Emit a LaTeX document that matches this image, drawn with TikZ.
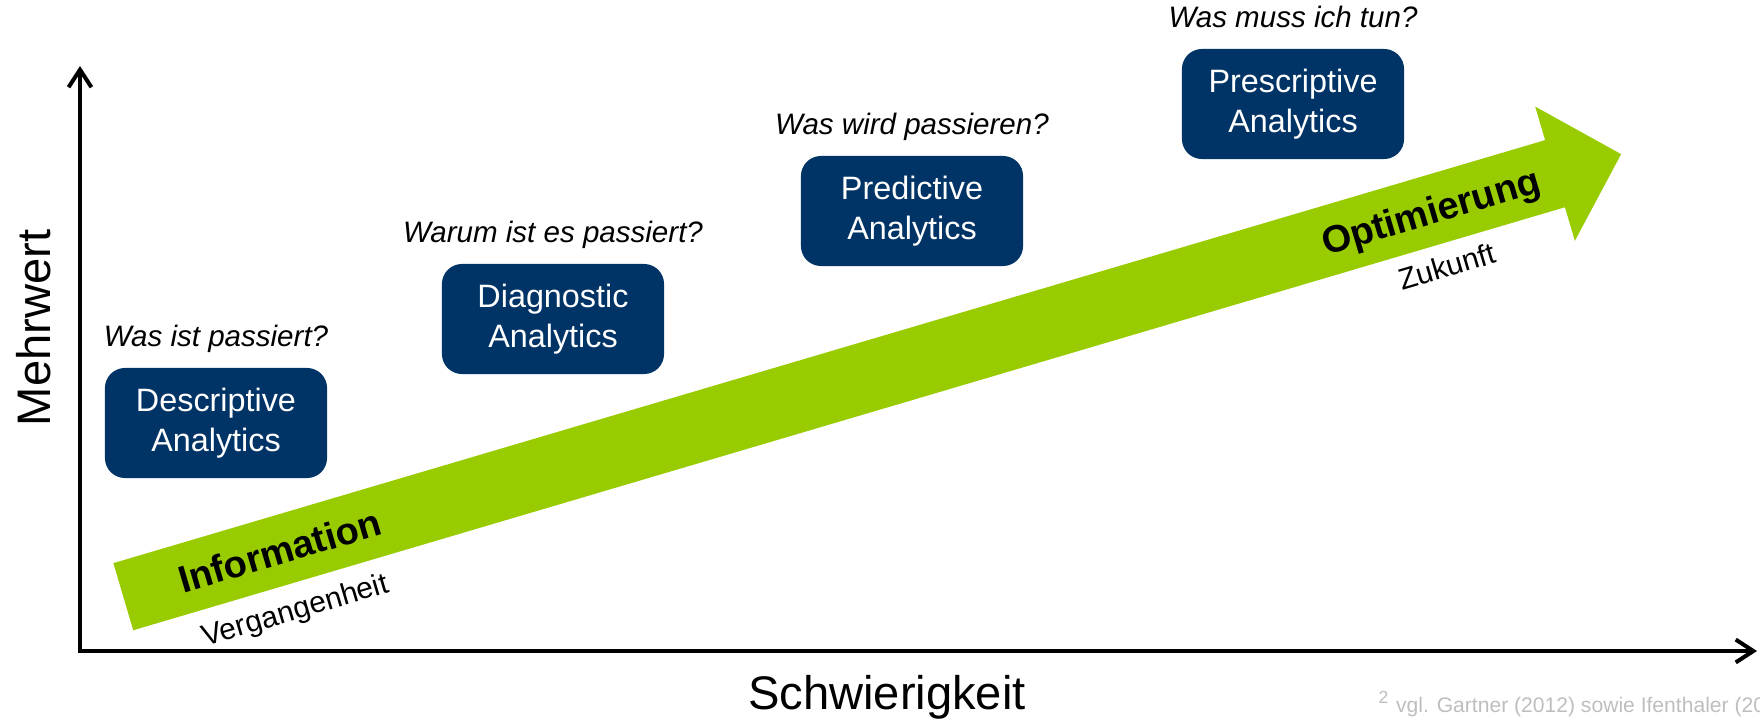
\documentclass[tikz,border=0pt]{standalone}
\usepackage{fontspec}
\setmainfont{Liberation Sans}
\usetikzlibrary{positioning,arrows.meta}

\definecolor{boxblue}{RGB}{0,51,102}
\definecolor{trendgreen}{RGB}{153,204,0}
\definecolor{notegray}{RGB}{190,190,190}

\tikzset{
  analytics/.style={fill=boxblue, rounded corners=0.2cm, minimum width=2.22cm,
    minimum height=1.1cm, inner sep=0pt, text=white, align=center,
    font=\fontsize{9.2}{11.2}\selectfont},
  question/.style={inner sep=0pt, text depth=0pt, font=\fontsize{8.4}{10}\selectfont\itshape},
  axis/.style={line width=1.14pt, {Straight Barb[length=5pt,width=6.5pt]}-{Straight Barb[length=5pt,width=6.5pt]}},
  axislabel/.style={inner sep=0pt, font=\fontsize{13.4}{16}\selectfont},
  phase/.style={inner sep=0pt, anchor=base, rotate=16.46, font=\bfseries\fontsize{10.8}{13}\selectfont},
  period/.style={inner sep=0pt, anchor=base, rotate=16.46, font=\fontsize{8.5}{10}\selectfont},
  footnote/.style={inner sep=0pt, text=notegray, font=\fontsize{6}{7}\selectfont}
}

\begin{document}
\begin{tikzpicture}[x=0.01cm, y=-0.01cm]
  \clip (0,0) rectangle (1760,721);

  % axes
  \coordinate (origin) at (80,651);
  \coordinate (ytop) at (80,66);
  \coordinate (xend) at (1757,651);
  \draw[axis] (ytop) -- (origin) -- (xend);
  \node[axislabel, rotate=90] (mehrwert) at (34,328) {Mehrwert};
  \node[axislabel, anchor=base] (schwierig) at (887,709) {Schwierigkeit};

  % green trend arrow
  \begin{scope}[shift={(123.3,596.7)}, rotate=16.46]
    \coordinate (tail) at (0,0);
    \coordinate (tip) at (1562,0);
    \fill[trendgreen] (0,-35) -- (1493,-35) -- (1493,-70) -- (tip)
      -- (1493,70) -- (1493,35) -- (0,35) -- cycle;
    \node[phase] (info) at (163,13.7) {Information};
    \node[phase] (optim) at (1363,13.7) {Optimierung};
    \node[period] (past) at (161,71) {Vergangenheit};
    \node[period] (future) at (1363,69) {Zukunft};
  \end{scope}

  % analytics boxes
  \node[analytics] (desc) at (216,423) {Descriptive\\Analytics};
  \node[analytics] (diag) at (553,319) {Diagnostic\\Analytics};
  \node[analytics] (pred) at (912,211) {Predictive\\Analytics};
  \node[analytics] (presc) at (1293,104) {Prescriptive\\Analytics};

  \node[question, above=5.7pt of desc] (qdesc) {Was ist passiert?};
  \node[question, above=5.7pt of diag] (qdiag) {Warum ist es passiert?};
  \node[question, above=5.7pt of pred] (qpred) {Was wird passieren?};
  \node[question, above=5.7pt of presc] (qpresc) {Was muss ich tun?};

  \node[footnote, anchor=base west] (note) at (1378,712)
    {\textsuperscript{2} vgl. Gartner (2012) sowie Ifenthaler (20};
\end{tikzpicture}
\end{document}
